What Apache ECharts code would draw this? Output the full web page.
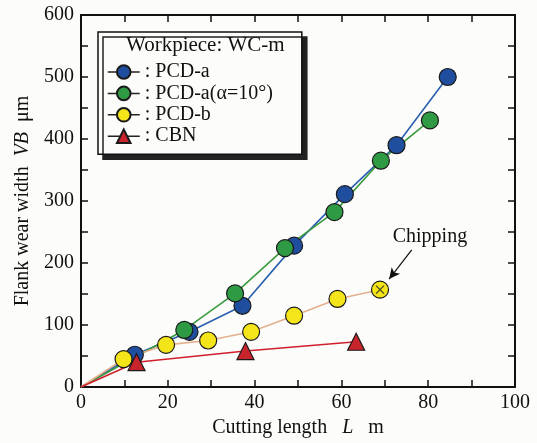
<!DOCTYPE html>
<html><head><meta charset="utf-8">
<script src="https://cdn.jsdelivr.net/npm/echarts@6/dist/echarts.min.js"></script>
<style>html,body{margin:0;padding:0;background:#fcfcfa;}#c{width:537px;height:443px;}</style>
</head><body><div id="c"></div>
<script>
var blueX = [0, 12.4, 25.0, 37.2, 49.1, 60.8, 72.7, 84.5];
var blueY = [0, 52, 89, 131, 228, 311, 390, 500];
var greenX = [0, 23.8, 35.5, 47.0, 58.4, 69.1, 80.4];
var greenY = [0, 92, 151, 224, 282, 365, 430];
var yellowX = [0, 9.8, 19.6, 29.3, 39.2, 49.1, 59.1, 68.9];
var yellowY = [0, 45, 68, 75, 89, 115, 142, 157];
var redX = [0, 12.8, 37.9, 63.4];
var redY = [0, 40, 58, 73];
var chipPoint = [68.9, 157];
var arrowFrom = [76.2, 221];
var arrowTo = [71.0, 174];
var chipText = [80.4, 242];
var xTickLabels = [0, 20, 40, 60, 80, 100];
var yTickLabels = [0, 100, 200, 300, 400, 500, 600];

var FONT = 'Liberation Serif';
function pts(xs, ys) {
  return xs.map(function (x, i) {
    return (x === 0 && ys[i] === 0) ? {value: [x, ys[i]], symbol: 'none'} : [x, ys[i]];
  });
}
var chart = echarts.init(document.getElementById('c'));
function axisBase(pos, isX) {
  return {
    type: 'value', position: pos, min: 0, max: isX ? 100 : 600, interval: isX ? 10 : 50,
    axisLine: {show: true, onZero: false, lineStyle: {color: '#111', width: 2}},
    axisTick: {show: true, inside: true, length: 7, lineStyle: {color: '#111', width: 1.5}},
    splitLine: {show: false}
  };
}
var xb = axisBase('bottom', true);
xb.axisLabel = {show: true, fontFamily: FONT, fontSize: 20, color: '#111', margin: 6,
  formatter: function (v) { return xTickLabels.indexOf(v) >= 0 ? String(v) : ''; }};
xb.name = 'Cutting length   {i|L}   m';
xb.nameLocation = 'middle'; xb.nameGap = 28;
xb.nameTextStyle = {fontFamily: FONT, fontSize: 20, color: '#111',
  rich: {i: {fontFamily: FONT, fontSize: 20, fontStyle: 'italic', color: '#111'}}};
var xt = axisBase('top', true); xt.axisLabel = {show: false};
var yl = axisBase('left', false);
yl.axisLabel = {show: true, fontFamily: FONT, fontSize: 20, color: '#111', margin: 7,
  formatter: function (v) { return yTickLabels.indexOf(v) >= 0 ? String(v) : ''; }};
yl.name = 'Flank wear width  {i|VB}  μm';
yl.nameLocation = 'middle'; yl.nameGap = 46;
yl.nameTextStyle = {fontFamily: FONT, fontSize: 20, color: '#111',
  rich: {i: {fontFamily: FONT, fontSize: 20, fontStyle: 'italic', color: '#111'}}};
var yr = axisBase('right', false); yr.axisLabel = {show: false};

function lineSeries(name, xs, ys, lineColor, fill, symbol, size) {
  return {
    name: name, type: 'line', data: pts(xs, ys), symbol: symbol, symbolSize: size,
    showAllSymbol: true, animation: false,
    lineStyle: {color: lineColor, width: 1.6},
    itemStyle: {color: fill, borderColor: '#1a1a1a', borderWidth: 1.2}
  };
}
var legLine = {color: '#222', width: 1.5};
chart.setOption({
  backgroundColor: '#fcfcfa',
  animation: false,
  grid: {left: 81, right: 22, top: 15, bottom: 56},
  xAxis: [xb, xt],
  yAxis: [yl, yr],
  title: {
    text: 'Workpiece: WC-m', left: 126, top: 35, padding: 0, z: 20,
    textStyle: {fontFamily: FONT, fontSize: 21, fontWeight: 'normal', color: '#111'}
  },
  legend: {
    orient: 'vertical', left: 98, top: 32, itemWidth: 32, itemHeight: 17, itemGap: 1.4,
    padding: [30, 29, 8, 9], z: 3,
    backgroundColor: '#fcfcfa', borderColor: '#111', borderWidth: 1.5,
    shadowColor: '#222', shadowOffsetX: 5, shadowOffsetY: 5, shadowBlur: 0,
    textStyle: {fontFamily: FONT, fontSize: 20, color: '#111'},
    formatter: function (n) { return ': ' + n; },
    data: [
      {name: 'PCD-a', lineStyle: legLine},
      {name: 'PCD-a(α=10°)', lineStyle: legLine},
      {name: 'PCD-b', lineStyle: legLine},
      {name: 'CBN', lineStyle: legLine}
    ]
  },
  series: [
    lineSeries('PCD-a', blueX, blueY, '#2a5fae', '#1f4e9e', 'circle', 17),
    lineSeries('PCD-a(α=10°)', greenX, greenY, '#3a9a3e', '#2f9a44', 'circle', 17),
    lineSeries('PCD-b', yellowX, yellowY, '#e3b08e', '#f4e41a', 'circle', 17),
    lineSeries('CBN', redX, redY, '#d0202c', '#c8242c', 'triangle', 17),
    {
      type: 'scatter', data: [chipPoint], symbol: 'path://M0,0 L10,10 M10,0 L0,10', symbolSize: 8,
      itemStyle: {color: 'none', borderColor: '#222', borderWidth: 1.3}, z: 5, silent: true,
      markLine: {
        silent: true, symbol: ['none', 'arrow'], symbolSize: [8, 11],
        lineStyle: {color: '#111', width: 1.2, type: 'solid'}, label: {show: false},
        data: [[{coord: arrowFrom}, {coord: arrowTo}]]
      },
      markPoint: {
        silent: true, symbol: 'circle', symbolSize: 0,
        label: {show: true, formatter: 'Chipping', fontFamily: FONT, fontSize: 20, color: '#111'},
        data: [{coord: chipText}]
      }
    }
  ]
});
</script></body></html>
